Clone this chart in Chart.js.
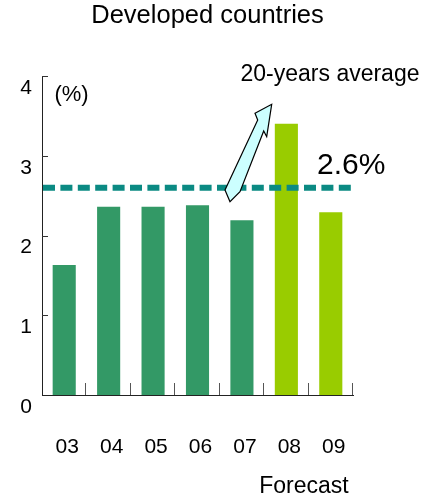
<!DOCTYPE html>
<html>
<head>
<meta charset="utf-8">
<script src="https://cdn.jsdelivr.net/npm/chart.js@4/dist/chart.umd.min.js"></script>
<style>
  html, body { margin: 0; padding: 0; background: #fff; }
  #wrap { position: relative; width: 427px; height: 496px; }
</style>
</head>
<body>
<div id="wrap"><canvas id="chart" width="427" height="496"></canvas></div>
<script>
// ---- data ----
const years = ['03', '04', '05', '06', '07', '08', '09'];
const growth = [1.63, 2.36, 2.36, 2.38, 2.19, 3.40, 2.29];
const isForecast = [false, false, false, false, false, true, true];
const average20y = 2.6;
const yTicks = [0, 1, 2, 3, 4];

const TITLE = 'Developed countries';
const UNIT = '(%)';
const AVG_NOTE = '20-years average';
const AVG_LABEL = average20y.toFixed(1) + '%';
const FORECAST = 'Forecast';

const ACTUAL_COLOR = '#339966';
const FORECAST_COLOR = '#99cc00';
const AVG_COLOR = '#0b8a83';
const FONT = '"Liberation Sans", Arial, sans-serif';

// draws the average dashed line, inner tick marks, arrow and text
const decorations = {
  id: 'decorations',
  beforeDatasetsDraw(chart) {
    const { ctx, chartArea: a, scales: { x, y } } = chart;
    ctx.save();
    // y ticks pointing inward
    ctx.strokeStyle = '#333';
    ctx.lineWidth = 1;
    yTicks.slice(1).forEach(v => {
      const py = Math.round(y.getPixelForValue(v)) + 0.5;
      ctx.beginPath();
      ctx.moveTo(a.left, py);
      ctx.lineTo(a.left + 6, py);
      ctx.stroke();
    });
    // x ticks between categories, pointing up
    ctx.strokeStyle = '#555';
    for (let i = 1; i <= years.length; i++) {
      const px = Math.round(a.left + (a.right - a.left) * i / years.length) - 0.5;
      ctx.beginPath();
      ctx.moveTo(px, a.bottom);
      ctx.lineTo(px, a.bottom - 12);
      ctx.stroke();
    }
    ctx.restore();
  },
  afterDatasetsDraw(chart) {
    const { ctx, chartArea: a, scales: { y } } = chart;
    const avgY = y.getPixelForValue(average20y);
    ctx.save();
    // 20-year average
    ctx.strokeStyle = AVG_COLOR;
    ctx.lineWidth = 6;
    ctx.setLineDash([12, 5.4]);
    ctx.beginPath();
    ctx.moveTo(a.left + 1, avgY);
    ctx.lineTo(a.right - 2, avgY);
    ctx.stroke();
    ctx.setLineDash([]);

    // block arrow pointing to the note
    const arrow = [[230, 201.7], [225, 190], [257.7, 120], [255, 113.3],
                   [271.7, 104.3], [266.7, 136.7], [263.7, 131], [240, 191.7]];
    ctx.beginPath();
    arrow.forEach(([px, py], i) => i ? ctx.lineTo(px, py) : ctx.moveTo(px, py));
    ctx.closePath();
    ctx.fillStyle = '#ccffff';
    ctx.fill();
    ctx.strokeStyle = '#000';
    ctx.lineWidth = 1.2;
    ctx.lineJoin = 'miter';
    ctx.stroke();

    // text
    ctx.fillStyle = '#000';
    ctx.textBaseline = 'middle';
    ctx.textAlign = 'center';
    ctx.font = '25.5px ' + FONT;
    ctx.fillText(TITLE, 207.5, 16);
    ctx.font = '22px ' + FONT;
    ctx.fillText(UNIT, 71.5, 95);
    ctx.font = '23px ' + FONT;
    ctx.fillText(AVG_NOTE, 330, 75);
    ctx.font = '23px ' + FONT;
    ctx.fillText(FORECAST, 304, 487);
    ctx.textAlign = 'left';
    ctx.font = '30px ' + FONT;
    ctx.fillText(AVG_LABEL, 317, 166);
    ctx.restore();
  }
};

new Chart(document.getElementById('chart'), {
  type: 'bar',
  data: {
    labels: years,
    datasets: [{
      data: growth,
      backgroundColor: isForecast.map(f => f ? FORECAST_COLOR : ACTUAL_COLOR),
      borderWidth: 0,
      categoryPercentage: 1,
      barPercentage: 0.52
    }]
  },
  options: {
    responsive: false,
    animation: false,
    events: [],
    layout: { padding: { left: 0, top: 76, right: 74, bottom: 0 } },
    plugins: { legend: { display: false }, tooltip: { enabled: false }, title: { display: false } },
    scales: {
      x: {
        grid: { display: false, drawTicks: false },
        border: { display: true, color: '#222', width: 1 },
        ticks: { color: '#000', padding: 40, labelOffset: 3, font: { family: FONT, size: 21 } },
        afterFit(scale) { scale.height = 101; }
      },
      y: {
        min: 0, max: 4,
        afterBuildTicks(scale) { scale.ticks = yTicks.map(v => ({ value: v })); },
        grid: { display: false, drawTicks: false },
        border: { display: true, color: '#222', width: 1 },
        ticks: { color: '#000', padding: 10, labelOffset: 12, font: { family: FONT, size: 21 } },
        afterFit(scale) { scale.width = 42; }
      }
    }
  },
  plugins: [decorations]
});
</script>
</body>
</html>
